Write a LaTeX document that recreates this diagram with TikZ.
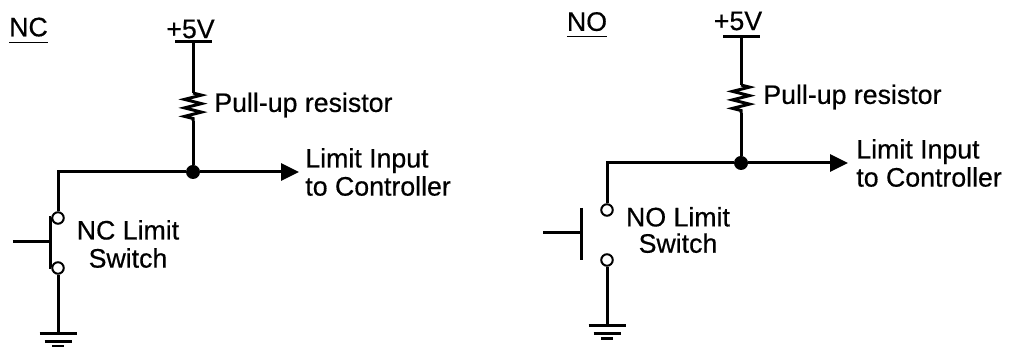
\documentclass[tikz,border=0pt]{standalone}
\usepackage{fontspec}
\setmainfont[RawFeature={embolden=0.5}]{Liberation Sans}
\usetikzlibrary{arrows.meta,decorations.pathmorphing}

\tikzset{
  wire/.style={line width=0.06cm},
  lbl/.style={inner sep=0pt,font=\fontsize{15.2pt}{16pt}\selectfont,align=center},
  sidelbl/.style={lbl,anchor=west,align=left},
  junction/.style={circle,fill=black,inner sep=0pt,minimum size=0.28cm},
  contact/.style={circle,draw,fill=white,line width=0.04cm,inner sep=0pt,minimum size=0.23cm},
  resistor/.style={wire,decorate,decoration={zigzag,amplitude=0.17cm,segment length=0.17cm}},
  feed/.style={wire,-{Triangle[length=0.36cm,width=0.34cm]}},
  ground/.pic={
    \draw[wire] (-0.37,0) -- (0.37,0); \draw[wire] (-0.27,-0.15) -- (0.27,-0.15);
    \draw[wire] (-0.12,-0.26) -- (0.12,-0.26);
  }
}

\begin{document}
\begin{tikzpicture}
      \useasboundingbox (0, 0) rectangle (20.18, 6.94);

      % NC circuit
      \node[lbl] (nctitle) at (0.57, 6.33) {\underline{NC\rule[-2pt]{0pt}{0pt}}};
      \node[lbl] (vcca) at (3.81, 6.36) {+5V};
      \coordinate (vccal) at (3.5, 6.1); \coordinate (vccar) at (4.24, 6.1);
      \coordinate (vcca0) at (3.86, 6.1); \coordinate (resatop) at (3.86, 5.08);
      \coordinate (resabot) at (3.86, 4.52);
      \node[junction] (juna) at (3.86, 3.5) {}; \coordinate (tipa) at (5.98, 3.5);
      \node[contact] (cona) at (1.16, 2.58) {}; \node[contact] (conb) at (1.16, 1.58) {};
      \coordinate (barat) at (1.0, 2.58); \coordinate (barab) at (1.0, 1.58);
      \coordinate (leva) at (0.26, 2.1); \coordinate (levb) at (1.0, 2.1);
      \coordinate (gnda) at (1.16, 0.26);

      \draw[wire] (vccal) -- (vccar);
      \draw[wire] (vcca0) -- (resatop); \draw[resistor] (resatop) -- (resabot);
      \draw[wire] (resabot) -- (juna);
      \draw[feed] (juna) -- (tipa);
      \draw[wire] (juna) -| (cona);
      \draw[wire] (cona) -- (barat) -- (barab) -- (conb);
      \draw[wire] (leva) -- (levb);
      \draw[wire] (conb) -- (gnda); \pic at (gnda) {ground};
      \node[sidelbl] (limita) at (6.1, 3.5) {Limit Input\\to Controller};
      \node[sidelbl] (resa) at (4.28, 4.84) {Pull-up resistor};
      \node[lbl] (swa) at (2.56, 2.06) {NC Limit\\Switch};

      % NO circuit
      \node[lbl] (notitle) at (11.74, 6.44) {\underline{NO\rule[-2pt]{0pt}{0pt}}};
      \node[lbl] (vccb) at (14.76, 6.52) {+5V};
      \coordinate (vccbl) at (14.46, 6.2); \coordinate (vccbr) at (15.2, 6.2);
      \coordinate (vccb0) at (14.82, 6.2); \coordinate (resbtop) at (14.82, 5.24);
      \coordinate (resbbot) at (14.82, 4.68);
      \node[junction] (junb) at (14.82, 3.68) {}; \coordinate (tipb) at (16.96, 3.68);
      \node[contact] (conc) at (12.14, 2.74) {}; \node[contact] (cond) at (12.14, 1.74) {};
      \coordinate (barbt) at (11.62, 2.78); \coordinate (barbb) at (11.62, 1.74);
      \coordinate (levc) at (10.86, 2.28); \coordinate (levd) at (11.62, 2.28);
      \coordinate (gndb) at (12.14, 0.42);

      \draw[wire] (vccbl) -- (vccbr);
      \draw[wire] (vccb0) -- (resbtop); \draw[resistor] (resbtop) -- (resbbot);
      \draw[wire] (resbbot) -- (junb);
      \draw[feed] (junb) -- (tipb);
      \draw[wire] (junb) -| (conc);
      \draw[wire] (barbt) -- (barbb);
      \draw[wire] (levc) -- (levd);
      \draw[wire] (cond) -- (gndb); \pic at (gndb) {ground};
      \node[sidelbl] (limitb) at (17.12, 3.68) {Limit Input\\to Controller};
      \node[sidelbl] (resb) at (15.26, 5.0) {Pull-up resistor};
      \node[lbl] (swb) at (13.56, 2.34) {NO Limit\\[-1pt]Switch};
\end{tikzpicture}
\end{document}
